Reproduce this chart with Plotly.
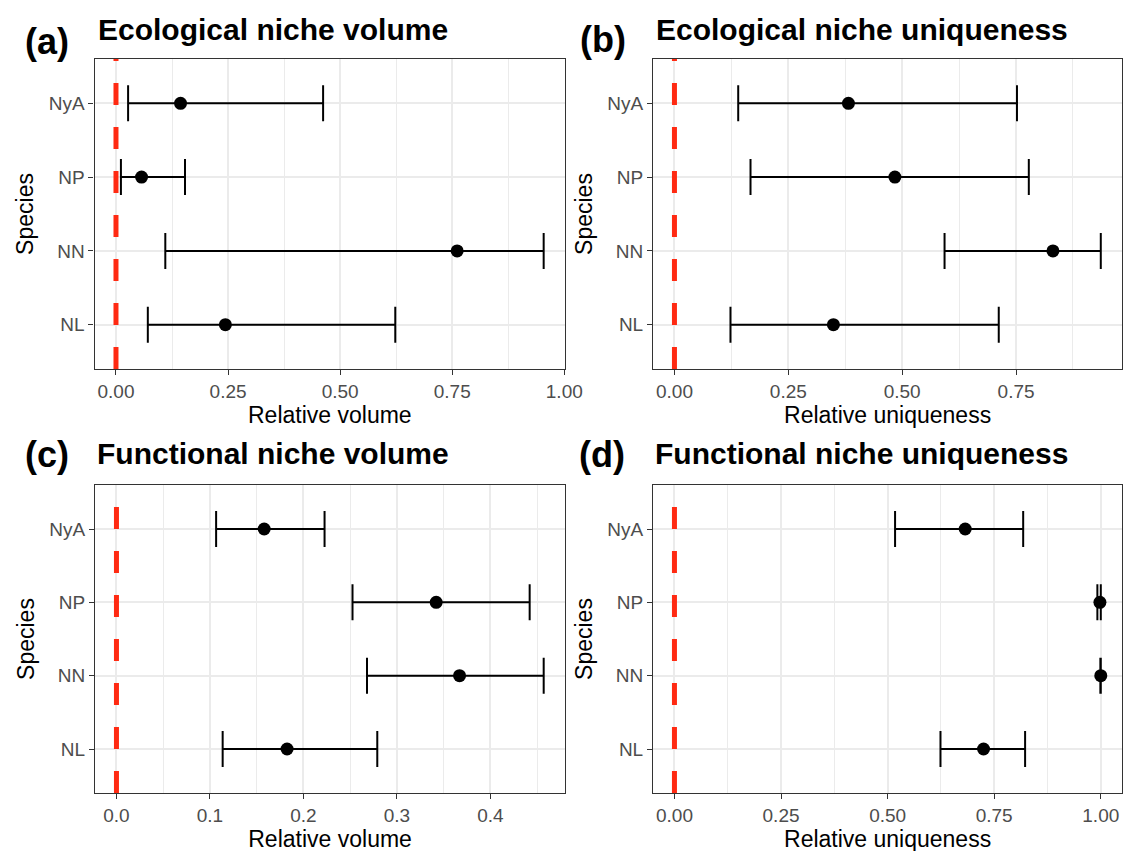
import plotly.graph_objects as go

species = ["NL", "NN", "NP", "NyA"]

# (a) Ecological niche volume
eco_vol_est = [0.244, 0.761, 0.057, 0.144]
eco_vol_lo = [0.071, 0.110, 0.011, 0.027]
eco_vol_hi = [0.623, 0.954, 0.154, 0.462]

# (b) Ecological niche uniqueness
eco_uni_est = [0.349, 0.831, 0.484, 0.382]
eco_uni_lo = [0.123, 0.593, 0.167, 0.140]
eco_uni_hi = [0.712, 0.936, 0.778, 0.752]

# (c) Functional niche volume
fun_vol_est = [0.1825, 0.367, 0.342, 0.158]
fun_vol_lo = [0.1136, 0.268, 0.2525, 0.1066]
fun_vol_hi = [0.279, 0.457, 0.442, 0.2226]

# (d) Functional niche uniqueness
fun_uni_est = [0.725, 1.0, 0.998, 0.682]
fun_uni_lo = [0.624, 0.999, 0.992, 0.5175]
fun_uni_hi = [0.8225, 1.0, 1.0, 0.818]

tags = ["(a)", "(b)", "(c)", "(d)"]
titles = ["Ecological niche volume", "Ecological niche uniqueness",
          "Functional niche volume", "Functional niche uniqueness"]
xtitles = ["Relative volume", "Relative uniqueness", "Relative volume", "Relative uniqueness"]
xticks = [[0, 0.25, 0.5, 0.75, 1.0], [0, 0.25, 0.5, 0.75],
          [0, 0.1, 0.2, 0.3, 0.4], [0, 0.25, 0.5, 0.75, 1.0]]
xminor = [0.125, 0.125, 0.05, 0.125]
xfmt = [".2f", ".2f", ".1f", ".2f"]

panels = [
    (eco_vol_est, eco_vol_lo, eco_vol_hi),
    (eco_uni_est, eco_uni_lo, eco_uni_hi),
    (fun_vol_est, fun_vol_lo, fun_vol_hi),
    (fun_uni_est, fun_uni_lo, fun_uni_hi),
]

W, H = 1138, 851
# panel boxes in pixels: left, right, top, bottom
boxes = [(88, 566, 51, 361), (655.5, 1132, 51, 361),
         (88.5, 566, 477, 785), (655.5, 1132, 477, 785)]
tag_pos = [(15, 33), (579, 31), (15, 447), (578, 446)]
title_pos = [(89, 21), (656, 21), (88, 445), (655, 445)]

FONT = "Liberation Sans, Arial, Helvetica, sans-serif"
GRID = "#EBEBEB"

fig = go.Figure()
shapes = []
annotations = []
layout = dict(width=W, height=H, margin=dict(l=0, r=0, t=0, b=0),
              paper_bgcolor="white", plot_bgcolor="white", showlegend=False,
              font=dict(family=FONT))

for i, (est, lo, hi) in enumerate(panels):
    n = i + 1
    xa = "x" if n == 1 else f"x{n}"
    ya = "y" if n == 1 else f"y{n}"
    fig.add_trace(go.Scatter(
        x=est, y=species, mode="markers", xaxis=xa, yaxis=ya,
        marker=dict(color="black", size=13),
        error_x=dict(type="data", symmetric=False,
                     array=[h - e for h, e in zip(hi, est)],
                     arrayminus=[e - l for e, l in zip(est, lo)],
                     color="black", thickness=2, width=18),
        cliponaxis=False,
    ))
    dmin = min(0, min(lo))
    dmax = max(hi)
    span = dmax - dmin
    xr = [dmin - 0.05 * span, dmax + 0.05 * span]
    l, r, t, b = boxes[i]
    axkey = "xaxis" if n == 1 else f"xaxis{n}"
    aykey = "yaxis" if n == 1 else f"yaxis{n}"
    layout[axkey] = dict(
        domain=[l / W, r / W], anchor=ya, range=xr,
        tickvals=xticks[i], tickformat=xfmt[i],
        showgrid=True, gridcolor=GRID, gridwidth=1.6,
        minor=dict(dtick=xminor[i], tick0=0, showgrid=True, gridcolor=GRID, gridwidth=0.8),
        showline=True, mirror=True, linecolor="#333333", linewidth=1.3,
        ticks="outside", ticklen=5, tickwidth=1.3, tickcolor="#333333",
        tickfont=dict(size=19, color="#4D4D4D", family=FONT),
        title=dict(text=xtitles[i], font=dict(size=23, color="black", family=FONT), standoff=0),
        zeroline=False, fixedrange=True,
    )
    layout[aykey] = dict(
        domain=[1 - b / H, 1 - t / H], anchor=xa,
        type="category", categoryorder="array", categoryarray=species,
        range=[-0.6, len(species) - 1 + 0.6],
        showgrid=True, gridcolor=GRID, gridwidth=1.6,
        showline=True, mirror=True, linecolor="#333333", linewidth=1.3,
        ticks="outside", ticklen=5, tickwidth=1.3, tickcolor="#333333",
        tickfont=dict(size=19, color="#4D4D4D", family=FONT),
        title=dict(text="Species", font=dict(size=23, color="black", family=FONT), standoff=8),
        zeroline=False, fixedrange=True,
    )
    shapes.append(dict(
        type="line", xref=xa, yref=f"{ya} domain", x0=0, x1=0, y0=0, y1=1,
        line=dict(color="#FF2A12", width=5, dash="22px,22px"), layer="above",
    ))
    tx, ty = tag_pos[i]
    annotations.append(dict(
        text=f"<b>{tags[i]}</b>", xref="paper", yref="paper",
        x=tx / W, y=1 - ty / H, xanchor="left", yanchor="middle",
        showarrow=False, font=dict(size=36, color="black", family=FONT),
    ))
    px, py = title_pos[i]
    annotations.append(dict(
        text=f"<b>{titles[i]}</b>", xref="paper", yref="paper",
        x=px / W, y=1 - py / H, xanchor="left", yanchor="middle",
        showarrow=False, font=dict(size=30, color="black", family=FONT),
    ))

layout["shapes"] = shapes
layout["annotations"] = annotations
fig.update_layout(**layout)
fig.write_html("out.html")
